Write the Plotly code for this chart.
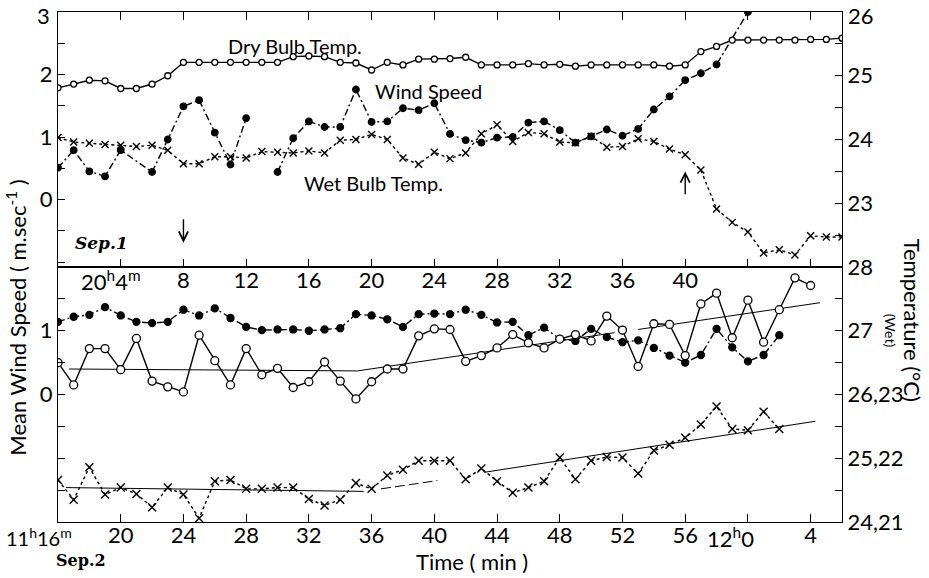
import plotly.graph_objects as go

# ---------------- Sep. 1 (top panel), minutes after 20h00m ----------------
top_minutes = list(range(0, 51))
top_dry = [24.81, 24.87, 24.93, 24.92, 24.80, 24.80, 24.87, 25.00, 25.21, 25.21,
           25.21, 25.21, 25.21, 25.21, 25.21, 25.30, 25.31, 25.30, 25.21, 25.20,
           25.09, 25.21, 25.17, 25.26, 25.26, 25.27, 25.29, 25.17, 25.17, 25.17,
           25.19, 25.17, 25.18, 25.15, 25.17, 25.17, 25.17, 25.17, 25.17, 25.15,
           25.17, 25.38, 25.46, 25.56, 25.56, 25.56, 25.56, 25.56, 25.57, 25.57, 25.59]
top_wet = [24.03, 23.96, 23.94, 23.92, 23.91, 23.89, 23.91, 23.83, 23.62, 23.62,
           23.73, 23.73, 23.71, 23.81, 23.80, 23.79, 23.82, 23.79, 23.99, 24.00,
           24.08, 24.00, 23.71, 23.61, 23.80, 23.70, 23.79, 24.09, 24.23, 23.97,
           24.11, 24.09, 23.96, 23.95, 24.05, 23.88, 23.89, 24.01, 23.97, 23.85,
           23.76, 23.52, 22.91, 22.70, 22.55, 22.22, 22.27, 22.19, 22.49, 22.47, 22.47]
top_wind_min_a = [0, 1, 2, 3, 4, 6, 7, 8, 9, 10, 11, 12]
top_wind_a = [0.51, 0.79, 0.45, 0.37, 0.79, 0.44, 0.96, 1.49, 1.59, 1.07, 0.56, 1.30]
top_wind_min_b = list(range(14, 43)) + [44]
top_wind_b = [0.44, 0.98, 1.25, 1.16, 1.16, 1.76, 1.24, 1.25, 1.46, 1.43,
              1.54, 1.05, 0.95, 0.91, 0.99, 1.00, 1.23, 1.25, 1.11, 0.91,
              1.01, 1.12, 1.02, 1.13, 1.44, 1.65, 1.91, 2.02, 2.16, 3.0]

# ---------------- Sep. 2 (bottom panel), clock minutes after 11h00m ----------------
bot_dry_min = list(range(16, 65))
bot_dry = [26.50, 26.15, 26.72, 26.72, 26.39, 26.88, 26.21, 26.12, 26.04, 26.93,
           26.53, 26.15, 26.72, 26.31, 26.41, 26.11, 26.20, 26.51, 26.21, 25.93,
           26.20, 26.40, 26.40, 26.92, 27.03, 27.02, 26.52,
           26.61, 26.73, 26.94, 26.81, 26.73, 26.87, 26.94, 26.84, 27.23, 27.01,
           26.44, 27.11, 27.10, 26.61, 27.42, 27.59, 26.89, 27.48, 26.82, 27.33,
           27.83, 27.71]
bot_wind_min = list(range(16, 63))
bot_wind = [1.14, 1.22, 1.25, 1.37, 1.24, 1.14, 1.12, 1.14, 1.33, 1.24,
            1.35, 1.20, 1.06, 1.01, 1.02, 1.02, 1.00, 1.02, 1.04, 1.26,
            1.24, 1.18, 1.06, 1.26, 1.27, 1.26, 1.33,
            1.25, 1.13, 1.14, 0.93, 1.05, 0.87, 0.84, 1.03, 0.90, 0.82,
            0.85, 0.73, 0.61, 0.50, 0.62, 1.03, 0.74, 0.52, 0.62, 0.93]
bot_wet_min = list(range(16, 63))
bot_wet = [21.66, 21.35, 21.86, 21.43, 21.54, 21.44, 21.23, 21.54, 21.43, 21.06,
           21.64, 21.66, 21.52, 21.52, 21.54, 21.54, 21.36, 21.26, 21.35, 21.61,
           21.52, 21.73, 21.82, 21.96, 21.96, 21.96, 21.67,
           21.84, 21.64, 21.46, 21.54, 21.64, 22.01, 21.67, 21.96, 22.02, 22.01,
           21.76, 22.12, 22.21, 22.32, 22.53, 22.81, 22.46, 22.44, 22.73, 22.46]

# trend lines (Sep. 2)
dry_trend1_x, dry_trend1_y = [16.7, 35.1], [26.40, 26.37]
dry_trend2_x, dry_trend2_y = [35.1, 51.5], [26.37, 26.97]
dry_trend3_x, dry_trend3_y = [53.0, 64.6], [27.02, 27.44]
wet_trend1_x, wet_trend1_y = [16.5, 35.5], [21.54, 21.48]
wet_trend2_x, wet_trend2_y = [36.6, 40.2], [21.52, 21.65]
wet_trend3_x, wet_trend3_y = [43.2, 64.3], [21.78, 22.58]

# tick labels
top_tick_vals = [8, 12, 16, 20, 24, 28, 32, 36, 40]
top_tick_text = ["8", "12", "16", "20", "24", "28", "32", "36", "40"]
top_minor_vals = [4, 44, 48]
top_first_label = "20<sup>h</sup>4<sup>m</sup>"
bot_tick_vals = [20, 24, 28, 32, 36, 40, 44, 48, 52, 56, 64]
bot_tick_text = ["20", "24", "28", "32", "36", "40", "44", "48", "52", "56", "4"]
bot_minor_vals = [60]
bot_first_label = "11<sup>h</sup>16<sup>m</sup>"
bot_noon_label = "12<sup>h</sup>0"
top_left_vals = [0, 1, 2]
top_left_text = ["0", "1", "2"]
top_left_minor = [-1, -0.5, 0.5, 1.5, 2.5, 3]
top_left_top_label = "3"
top_right_vals = [23, 24, 25]
top_right_text = ["23", "24", "25"]
top_right_minor = [22.5, 23.5, 24.5, 25.5, 26]
top_right_top_label = "26"
bot_left_vals = [0, 1]
bot_left_text = ["0", "1"]
bot_left_minor = [-1.5, -1, -0.5, 0.5, 1.5]
bot_right_vals = [24, 25, 26, 27, 28]
bot_right_text = ["24,21", "25,22", "26,23", "27", "28"]
bot_right_minor = [24.5, 25.5, 26.5, 27.5]

FONT = "Lato, Open Sans, sans-serif"
K = "black"

fig = go.Figure()

def line_trace(x, y, xa, ya, dash, sym, msize, mfill, lw=1.4, mlw=1.3):
    return go.Scatter(
        x=x, y=y, xaxis=xa, yaxis=ya, mode="lines+markers",
        line=dict(color=K, width=lw, dash=dash),
        marker=dict(symbol=sym, size=msize, color=mfill,
                    line=dict(color=K, width=mlw)),
        showlegend=False, hoverinfo="skip")

# top panel
fig.add_trace(line_trace(top_minutes, top_dry, "x", "y2", "solid", "circle", 6, "white"))
fig.add_trace(line_trace(top_minutes, top_wet, "x", "y2", "3px,3px", "x-thin", 7, K, mlw=1.4))
fig.add_trace(line_trace(top_wind_min_a, top_wind_a, "x", "y", "7px,3px,2px,3px", "circle", 6.5, K))
fig.add_trace(line_trace(top_wind_min_b, top_wind_b, "x", "y", "7px,3px,2px,3px", "circle", 6.5, K))

# bottom panel
def trend(x, y, ya, dash="solid"):
    return go.Scatter(x=x, y=y, xaxis="x2", yaxis=ya, mode="lines",
                      line=dict(color=K, width=1, dash=dash),
                      showlegend=False, hoverinfo="skip")

fig.add_trace(trend(dry_trend1_x, dry_trend1_y, "y4"))
fig.add_trace(trend(dry_trend2_x, dry_trend2_y, "y4"))
fig.add_trace(trend(dry_trend3_x, dry_trend3_y, "y4"))
fig.add_trace(trend(wet_trend1_x, wet_trend1_y, "y5"))
fig.add_trace(trend(wet_trend2_x, wet_trend2_y, "y5", "10px,4px"))
fig.add_trace(trend(wet_trend3_x, wet_trend3_y, "y5"))

fig.add_trace(line_trace(bot_wind_min, bot_wind, "x2", "y3", "7px,3px,2px,3px", "circle", 7, K))
fig.add_trace(line_trace(bot_dry_min, bot_dry, "x2", "y4", "solid", "circle", 8, "white"))
fig.add_trace(line_trace(bot_wet_min, bot_wet, "x2", "y5", "3px,3px", "x-thin", 8, K, mlw=1.4))

tickfont = dict(family=FONT, size=22, color=K)
TL = 7

def minor(vals, tl=TL):
    return dict(tickvals=vals, ticks="inside", ticklen=tl, tickcolor=K, tickwidth=1.2,
                showgrid=False)

common_y = dict(showgrid=False, zeroline=False, showline=True, linecolor=K, linewidth=1.4,
                ticks="inside", ticklen=TL, tickcolor=K, tickwidth=1.2, tickfont=tickfont,
                automargin=False, ticklabeloverflow="allow")
common_x = dict(showgrid=False, zeroline=False, showline=True, linecolor=K, linewidth=1.3,
                ticks="inside", ticklen=8, tickcolor=K, tickwidth=1.2, tickfont=tickfont,
                automargin=False, ticklabeloverflow="allow", ticklabelstandoff=-7)

fig.update_layout(
    width=929, height=578,
    margin=dict(l=58, r=87, t=12, b=56, autoexpand=False),
    paper_bgcolor="white", plot_bgcolor="white",
    showlegend=False,
    xaxis=dict(domain=[0, 1], anchor="y", range=[0, 50], mirror="ticks",
               tickvals=top_tick_vals, ticktext=top_tick_text,
               minor=minor(top_minor_vals, 8), **common_x),
    xaxis2=dict(domain=[0, 1], anchor="y3", range=[16, 66], mirror=True,
                tickvals=bot_tick_vals, ticktext=bot_tick_text,
                minor=minor(bot_minor_vals, 8), **common_x),
    yaxis=dict(domain=[0.5, 1], anchor="x", range=[-1.08, 3],
               tickvals=top_left_vals, ticktext=top_left_text,
               minor=minor(top_left_minor), **common_y),
    yaxis2=dict(domain=[0.5, 1], anchor="x", overlaying="y", side="right", range=[22, 26],
                tickvals=top_right_vals, ticktext=top_right_text,
                minor=minor(top_right_minor), **common_y),
    yaxis3=dict(domain=[0, 0.5], anchor="x2", range=[-2, 2],
                tickvals=bot_left_vals, ticktext=bot_left_text,
                minor=minor(bot_left_minor), **common_y),
    yaxis4=dict(domain=[0, 0.5], anchor="x2", overlaying="y3", side="right", range=[24, 28],
                tickvals=bot_right_vals, ticktext=bot_right_text,
                minor=minor(bot_right_minor), **common_y),
    yaxis5=dict(domain=[0, 0.5], anchor="x2", overlaying="y3", side="right", range=[21, 25],
                visible=False, automargin=False),
)

ann_font = dict(family=FONT, size=20, color=K)
big = dict(family=FONT, size=22, color=K)
C = dict(xanchor="center", yanchor="middle", showarrow=False)
annotations = [
    dict(x=15.1, y=2.45, xref="x", yref="y", text="Dry Bulb Temp.", font=ann_font, **C),
    dict(x=23.6, y=1.73, xref="x", yref="y", text="Wind Speed", font=ann_font, **C),
    dict(x=20.1, y=0.27, xref="x", yref="y", text="Wet Bulb Temp.", font=ann_font, **C),
    dict(x=2.8, y=-0.69, xref="x", yref="y", text="<b><i>Sep.1</i></b>",
         font=dict(family="DejaVu Serif, serif", size=17, color=K), **C),
    dict(x=8, y=-0.69, xref="x", yref="y", ax=8, ay=-0.29, axref="x", ayref="y", text="",
         showarrow=True, arrowhead=5, arrowsize=1.3, arrowwidth=1.4, arrowcolor=K),
    dict(x=40, y=0.45, xref="x", yref="y", ax=40, ay=0.06, axref="x", ayref="y", text="",
         showarrow=True, arrowhead=5, arrowsize=1.3, arrowwidth=1.4, arrowcolor=K),
    # top-edge axis labels
    dict(x=-0.008, y=1.0235, xref="paper", yref="paper", xanchor="right", yanchor="top",
         text=top_left_top_label, showarrow=False, font=big),
    dict(x=1.005, y=1.0235, xref="paper", yref="paper", xanchor="left", yanchor="top",
         text=top_right_top_label, showarrow=False, font=big),
    # special time labels
    dict(x=0.109, y=0.4745, xref="paper", yref="paper", xanchor="right", yanchor="middle",
         text=top_first_label, showarrow=False, font=big),
    dict(x=0.021, y=-0.030, xref="paper", yref="paper", xanchor="right", yanchor="middle",
         text=bot_first_label, showarrow=False, font=dict(family=FONT, size=20, color=K)),
    dict(x=0.890, y=-0.030, xref="paper", yref="paper", xanchor="right", yanchor="middle",
         text=bot_noon_label, showarrow=False, font=big),
    dict(x=0.029, y=-0.075, xref="paper", yref="paper", text="<b>Sep.2</b>",
         font=dict(family="DejaVu Serif, serif", size=16, color=K), **C),
    dict(x=0.528, y=-0.078, xref="paper", yref="paper", text="Time ( min )", font=big, **C),
    dict(x=-0.054, y=0.40, xref="paper", yref="paper",
         text="Mean Wind Speed ( m.sec<sup>-1</sup> )", textangle=-90, font=big, **C),
    dict(x=1.091, y=0.396, xref="paper", yref="paper", text="Temperature (°C)",
         textangle=90, font=big, **C),
    dict(x=1.062, y=0.376, xref="paper", yref="paper", text="(Wet)",
         textangle=90, font=dict(family=FONT, size=14, color=K), **C),
]
fig.update_layout(annotations=annotations)

fig.write_html("out.html", config={"displayModeBar": False},
               post_script="document.body.style.margin='0';document.body.style.overflow='hidden';")
